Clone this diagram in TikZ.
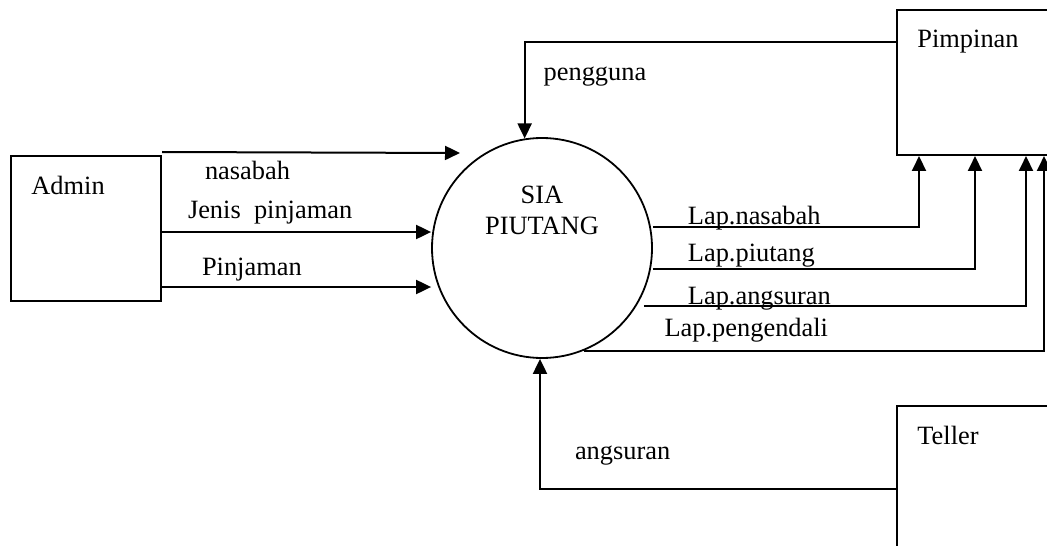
\documentclass[tikz,border=0pt]{standalone}
\usepackage{fontspec}
\setmainfont{Liberation Serif}
\usetikzlibrary{calc,arrows.meta}

\begin{document}
\begin{tikzpicture}[x=0.5pt,y=-0.5pt,font=\fontsize{13.2}{15.5}\selectfont,
		ent/.style={draw,rectangle,line width=1pt,minimum width=#1,minimum height=72.5pt,inner sep=0pt},
		txt/.style={anchor=base west,inner sep=0pt},
		flow/.style={line width=1pt,-{Triangle[length=7.5pt,width=7pt]}}]
				\useasboundingbox (0,0) rectangle (1047,545);
				\clip (0,0) rectangle (1047,545);
				\node[ent=75pt,label={[txt,xshift=10.5pt,yshift=-19.5pt]north west:Admin}] (admin) at (86,228.5){};
				\node[ent=85pt,label={[txt,xshift=10.5pt,yshift=-19.5pt]north west:Pimpinan}] (pimp) at (982,82.5){};
				\node[ent=85pt,label={[txt,xshift=10.5pt,yshift=-19.5pt]north west:Teller}] (teller) at (982,478.5){};
				\node[draw,circle,line width=0.9pt,minimum size=110pt,inner sep=0pt,
					label={[align=center,inner sep=0pt,yshift=19pt]center:SIA\\PIUTANG}] (sia) at (542,248){};
				\coordinate (nasEnd) at (460,153);
				\begin{scope}[flow]
				\draw ([yshift=1.5pt]admin.north east) node[txt,xshift=21pt,yshift=-13.5pt]{nasabah} -- (nasEnd);
				\draw ([yshift=-1.75pt]admin.east) node[txt,xshift=12.5pt,yshift=6.5pt]{Jenis\ \ pinjaman} -- ([yshift=-1.75pt]admin.east -| sia.west);
				\draw ([yshift=-29.25pt]admin.east) node[txt,xshift=19.5pt,yshift=6pt]{Pinjaman} -- ([yshift=-29.25pt]admin.east -| sia.west);
				\draw ([yshift=-16.5pt]pimp.north west) -| node[txt,pos=0.5,xshift=9pt,yshift=-19.5pt]{pengguna} (sia.99);
				\draw ([yshift=-42pt]teller.north west) -| node[txt,pos=0.5,xshift=17pt,yshift=15pt]{angsuran} ([xshift=-1pt]sia.south);
				\draw ([yshift=10.5pt]sia.east) node[txt,xshift=17pt,yshift=1.5pt]{Lap.nasabah} -| ([xshift=11.5pt]pimp.south west);
				\draw ([yshift=-10.5pt]sia.east) node[txt,xshift=17pt,yshift=4pt]{Lap.piutang} -| ([xshift=39.5pt]pimp.south west);
				\draw ([xshift=-4.5pt,yshift=-29pt]sia.east) node[txt,xshift=21.5pt,yshift=1pt]{Lap.angsuran} -| ([xshift=65pt]pimp.south west);
				\draw (sia.-68) node[txt,xshift=40pt,yshift=7pt]{Lap.pengendali} -| ([xshift=74pt]pimp.south west);
				\end{scope}
			\end{tikzpicture}
\end{document}
